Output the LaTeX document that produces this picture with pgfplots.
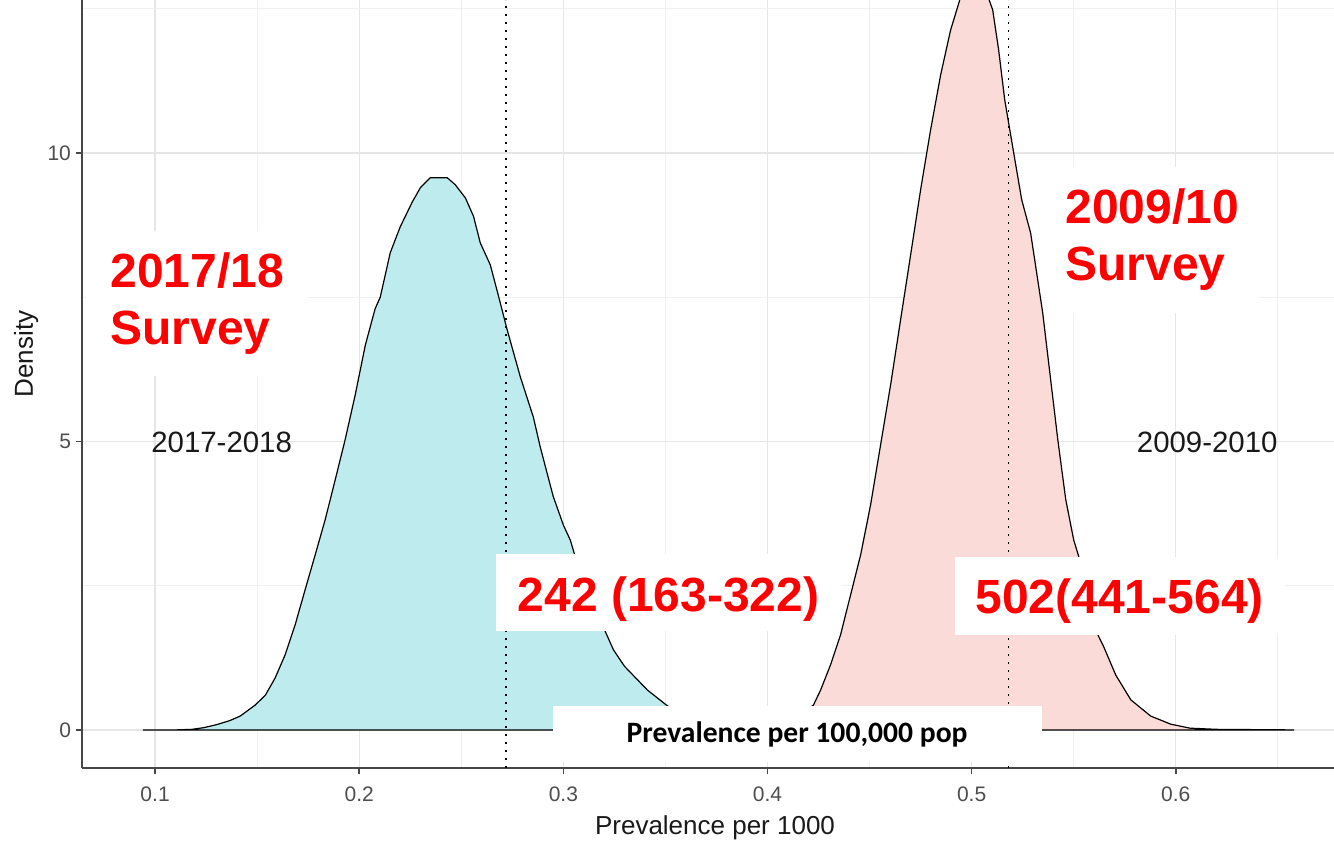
\documentclass[border=0pt]{standalone}
\usepackage{fontspec}
\setmainfont{Liberation Sans}
\newfontfamily\carlito{Carlito}
\usepackage{pgfplots}
\pgfplotsset{compat=1.18}
\usepackage{pgfplotstable}

\definecolor{fillnew}{RGB}{190,236,238}
\definecolor{fillold}{RGB}{251,219,215}
\definecolor{gridmajor}{RGB}{230,230,230}
\definecolor{gridminor}{RGB}{240,240,240}
\definecolor{axisgray}{RGB}{77,77,77}
\definecolor{labred}{RGB}{255,0,0}

% Posterior density of prevalence, 2017-2018 survey
\pgfplotstableread{
x       y
0.0940  0
0.1100  0
0.1180  0.01
0.1240  0.04
0.1300  0.09
0.1365  0.16
0.1417  0.24
0.1490  0.43
0.1540  0.60
0.1588  0.90
0.1637  1.30
0.1686  1.82
0.1735  2.43
0.1784  3.03
0.1833  3.64
0.1882  4.33
0.1931  5.03
0.1980  5.80
0.2030  6.67
0.2078  7.30
0.2103  7.50
0.2152  8.27
0.2201  8.72
0.2260  9.15
0.2300  9.40
0.2348  9.57
0.2431  9.57
0.2470  9.45
0.2520  9.22
0.2560  8.90
0.2593  8.44
0.2642  8.06
0.2680  7.55
0.2725  6.93
0.2789  6.12
0.2853  5.42
0.2887  4.90
0.2950  4.05
0.3000  3.55
0.3034  3.29
0.3054  3.05
0.3120  2.45
0.3206  1.70
0.3245  1.39
0.3300  1.10
0.3412  0.69
0.3505  0.43
0.3570  0.27
0.3650  0.15
0.3750  0.07
0.3850  0.03
0.4000  0.01
0.4200  0
}\densnew

% Posterior density of prevalence, 2009-2010 survey
\pgfplotstableread{
x       y
0.3800  0
0.3950  0.01
0.4050  0.05
0.4130  0.18
0.4225  0.43
0.4260  0.69
0.4309  1.13
0.4358  1.65
0.4407  2.34
0.4456  3.03
0.4505  3.90
0.4554  4.94
0.4603  5.98
0.4652  7.11
0.4701  8.23
0.4750  9.36
0.4799  10.40
0.4848  11.35
0.4897  12.13
0.4946  12.70
0.4995  13.10
0.5050  13.00
0.5103  12.48
0.5132  11.79
0.5162  10.92
0.5206  10.00
0.5245  9.19
0.5289  8.61
0.5348  7.23
0.5387  6.07
0.5422  5.03
0.5461  3.99
0.5500  3.29
0.5525  3.00
0.5575  2.20
0.5618  1.65
0.5647  1.44
0.5706  0.95
0.5780  0.52
0.5877  0.24
0.5975  0.10
0.6070  0.03
0.6200  0.01
0.6580  0
}\densold

\begin{document}
\begin{tikzpicture}
\useasboundingbox (0,0) rectangle (667pt,421pt);
\begin{axis}[
  at={(41pt,37pt)}, anchor=south west,
  scale only axis, width=626pt, height=384pt,
  xmin=0.0642, xmax=0.6775, ymin=-0.66, ymax=12.65,
  axis x line*=bottom, axis y line*=left,
  axis line style={-, draw=black!72, line width=0.9pt},
  xtick={0.1,0.2,0.3,0.4,0.5,0.6},
  ytick={0,5,10},
  minor xtick={0.15,0.25,0.35,0.45,0.55,0.65},
  minor ytick={2.5,7.5,12.5},
  grid=both,
  major grid style={draw=gridmajor, line width=0.6pt},
  minor grid style={draw=gridminor, line width=0.45pt},
  tick align=outside,
  major tick length=3pt, minor tick length=0pt,
  tick style={draw=black!72, line width=0.8pt},
  xticklabel style={/pgf/number format/fixed, /pgf/number format/precision=1, yshift=-3pt},
  yticklabel style={xshift=1pt},
  /pgf/number format/assume math mode=true,
  tick label style={font=\fontsize{10.5}{12}\selectfont, text=axisgray},
  xlabel={Prevalence per 1000}, ylabel={Density},
  label style={font=\fontsize{13}{15}\selectfont, text=black!90},
  xlabel style={at={(axis description cs:0.5056,-0.0781)}, anchor=center},
  ylabel style={at={(axis description cs:-0.0447,0.539)}, anchor=center},
]
\addplot[draw=black, line width=0.6pt, fill=fillnew] table[x=x, y=y] {\densnew} \closedcycle;
\addplot[draw=black, line width=0.6pt, fill=fillold] table[x=x, y=y] {\densold} \closedcycle;

% posterior means
\addplot[black, line width=0.9pt, dash pattern=on 0.9pt off 3.1pt] coordinates {(0.272,-0.66) (0.272,12.65)};
\addplot[black, line width=0.9pt, dash pattern=on 0.9pt off 3.1pt] coordinates {(0.518,-0.66) (0.518,12.65)};

\node[font=\fontsize{14.7}{17}\selectfont, text=black!90] at (axis cs:0.1326,4.98) {2017-2018};
\node[font=\fontsize{14.7}{17}\selectfont, text=black!90] at (axis cs:0.6154,4.98) {2009-2010};

\node[fill=white, text=labred, font=\fontsize{24}{28.5}\selectfont\bfseries, align=left,
      inner xsep=12pt, inner ysep=11pt] at (axis cs:0.1206,7.39) {2017/18\\Survey};
\node[fill=white, text=labred, font=\fontsize{24}{28.5}\selectfont\bfseries, align=left,
      inner xsep=10pt, inner ysep=11pt] at (axis cs:0.5885,8.49) {2009/10\\Survey};

\node[fill=white, text=labred, font=\fontsize{24}{28.5}\selectfont\bfseries, anchor=base,
      text height=21pt, text depth=1.5pt, inner xsep=11pt, inner ysep=8pt]
      at (axis cs:0.3515,2.045) {242 (163-322)};
\node[fill=white, text=labred, font=\fontsize{24}{28.5}\selectfont\bfseries, anchor=base,
      text height=20.5pt, text depth=2.5pt, inner xsep=10.5pt, inner ysep=8pt]
      at (axis cs:0.5725,2.01) {502(441-564)};

\node[fill=white, text=black, font=\carlito\bfseries\fontsize{14.8}{17}\selectfont, anchor=base,
      text height=14.5pt, text depth=5.5pt, inner xsep=37pt, inner ysep=4pt]
      at (axis cs:0.4145,-0.225) {Prevalence per 100,000 pop};
\end{axis}
\end{tikzpicture}
\end{document}
